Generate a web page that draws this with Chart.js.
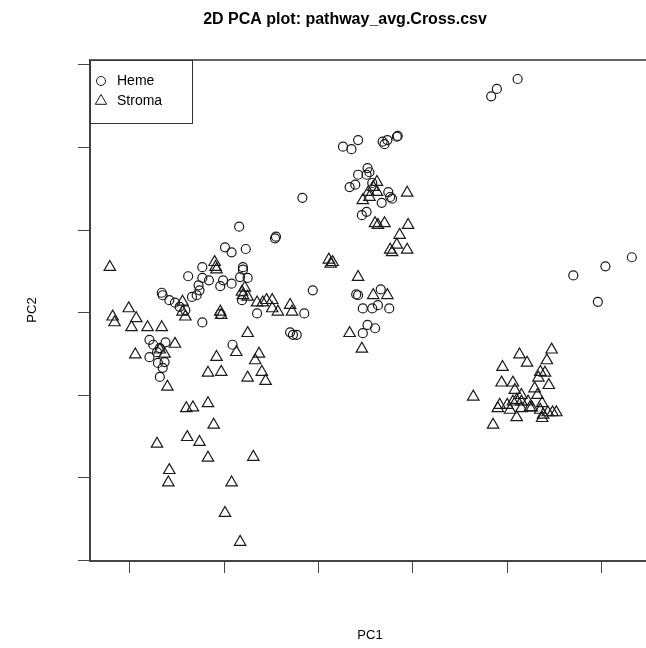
<!DOCTYPE html>
<html lang="en">
<head>
<meta charset="UTF-8">
<title>2D PCA plot</title>
<script src="https://cdn.jsdelivr.net/npm/chart.js"></script>
<style>
  html, body { margin: 0; padding: 0; background: #fff; overflow: hidden; }
</style>
</head>
<body>
<canvas id="pcaChart" width="646" height="648"></canvas>
<script>
// sample scores on the first two components, [PC1, PC2]
const hemeScores = [
  [18.3, 26.2], [18.9, 27.1], [21.1, 28.3],
  [27.0, 4.5], [30.4, 5.6], [33.2, 6.7], [29.6, 1.3],
  [2.6, 20.1], [3.5, 19.8], [4.2, 20.9], [6.8, 20.7], [7.0, 20.4], [7.3, 20.9], [8.3, 21.3], [8.4, 21.4],
  [5.2, 17.5], [5.4, 17.0], [4.2, 16.7], [5.1, 16.7], [3.3, 15.2], [3.9, 15.5], [5.7, 15.7],
  [7.4, 14.6], [7.6, 14.0], [7.8, 13.8], [6.7, 13.3], [4.6, 11.8], [5.1, 12.2],
  [-1.7, 13.9], [-4.5, 9.2], [-4.6, 9.0],
  [-0.6, 2.7], [4.0, 2.2], [4.2, 2.1], [6.6, 2.8], [4.7, 0.5], [5.7, 0.5], [6.3, 0.9], [7.5, 0.5],
  [5.2, -1.5], [6.0, -1.9], [4.7, -2.5], [-3.0, -2.4], [-2.7, -2.7], [-2.3, -2.7], [-1.5, -0.1],
  [-8.4, 10.4], [-9.9, 7.9], [-9.2, 7.3], [-7.7, 7.7], [-8.0, 5.5], [-8.0, 5.2], [-8.3, 4.3], [-7.5, 4.2],
  [-12.3, 5.5], [-13.8, 4.4], [-12.3, 4.2], [-11.6, 3.9], [-10.1, 3.9], [-10.4, 3.2], [-9.2, 3.5],
  [-12.7, 3.3], [-12.6, 2.7], [-12.9, 2.1], [-13.4, 1.9], [-16.5, 2.1], [-16.6, 2.4], [-15.8, 1.5],
  [-15.2, 1.2], [-14.7, 0.7], [-14.1, 0.3], [-12.3, -1.2], [-10.4, -0.2], [-6.5, -0.1], [-8.1, 1.5],
  [-9.1, -3.9],
  [-17.9, -3.3], [-17.5, -3.9], [-16.8, -4.3], [-16.2, -3.6], [-17.9, -5.4], [-17.1, -4.8],
  [-16.3, -6.0], [-16.5, -6.7], [-16.8, -7.8], [-17.0, -6.1]
];

const stromaScores = [
  [-22.1, 5.5], [-20.1, 0.5], [-21.8, -0.5], [-21.6, -1.2], [-19.3, -0.7], [-19.8, -1.8], [-18.1, -1.8],
  [-16.6, -1.8], [-19.4, -5.1], [-15.2, -3.8], [-16.0, -9.0], [-14.4, 1.3], [-14.4, 0.1], [-14.1, -0.5],
  [-16.8, -4.5], [-16.3, -5.0],
  [-11.0, 6.1], [-10.9, 5.5], [-10.8, 5.2], [-10.4, 0.1], [-10.3, -0.3],
  [-8.1, 2.5], [-8.0, 2.1], [-7.5, 1.9], [-7.8, 3.0], [-6.5, 1.2], [-5.9, 1.2], [-5.5, 1.5], [-4.9, 1.5],
  [-4.9, 0.5], [-4.3, 0.1], [-3.0, 0.9], [-2.8, 0.1], [-7.5, -2.5],
  [1.1, 6.4], [1.3, 5.9], [1.5, 6.1],
  [-11.7, -7.3], [-10.3, -7.2], [-10.8, -5.4], [-8.7, -4.8], [-7.5, -7.9], [-6.3, -5.0], [-6.7, -5.8],
  [-6.0, -7.2], [-5.6, -8.3],
  [-14.0, -11.6], [-13.3, -11.5], [-11.7, -11.0], [-11.1, -13.6], [-13.9, -15.1], [-12.6, -15.7],
  [-17.1, -15.9], [-11.7, -17.6], [-6.9, -17.5], [-15.8, -19.1], [-15.9, -20.6], [-9.2, -20.6],
  [-9.9, -24.3], [-8.3, -27.8],
  [4.2, 4.3], [5.8, 2.1], [7.3, 2.1], [3.3, -2.5], [4.6, -4.4],
  [6.2, 15.8], [5.8, 15.2], [5.3, 14.6], [6.2, 14.6], [4.7, 13.6], [5.4, 14.0], [9.4, 14.5],
  [6.0, 10.8], [6.3, 10.6], [7.0, 10.8], [9.5, 10.6], [8.6, 9.4], [8.3, 8.2], [7.6, 7.6], [7.8, 7.3], [9.4, 7.6],
  [24.7, -4.5], [24.2, -5.8], [21.3, -5.1], [22.1, -6.1], [19.5, -6.6], [23.5, -7.2], [24.0, -7.3],
  [23.3, -7.9], [19.4, -8.5], [24.4, -8.8], [20.6, -8.5], [20.8, -9.4], [22.9, -9.2], [23.2, -10.0],
  [16.4, -10.2], [19.2, -11.2], [20.0, -11.2], [20.6, -10.8], [21.5, -10.8], [22.2, -10.8], [22.4, -11.5],
  [23.7, -11.0], [19.0, -11.6], [20.3, -11.8], [21.5, -11.6], [23.5, -11.8], [23.8, -12.4], [24.3, -12.1],
  [24.8, -12.1], [25.2, -12.1], [21.0, -12.7], [23.7, -12.8], [18.5, -13.6], [21.5, -10.0], [22.6, -11.5],
  [21.0, -10.6]
];

const groupNames = ['Heme', 'Stroma'];
const pc1Ticks = [-20, -10, 0, 10, 20, 30];
const pc2Ticks = [-30, -20, -10, 0, 10, 20, 30];
const pc1Limits = [-24.2, 34.7];
const pc2Limits = [-30.1, 30.6];
const plotTitle = '2D PCA plot: pathway_avg.Cross.csv';
const xLabel = 'PC1';
const yLabel = 'PC2';

const ink = '#1a1a1a';
const fontFamily = '"Liberation Sans", Arial, Helvetica, sans-serif';

const toPoints = rows => rows.map(([x, y]) => ({ x: x, y: y }));

// axis line + outward tick marks only, no labels
function plainAxis(limits, tickValues, horizontal) {
  return {
    type: 'linear',
    min: limits[0],
    max: limits[1],
    afterBuildTicks: scale => { scale.ticks = tickValues.map(v => ({ value: v })); },
    afterFit: scale => {
      if (horizontal) scale.height = 12; else scale.width = 12;
    },
    ticks: { display: false },
    grid: { drawOnChartArea: false, drawTicks: true, tickLength: 12, color: '#444', lineWidth: 1 },
    border: { display: true, color: '#444', width: 2 }
  };
}

// title, axis names, top frame edge and the boxed key
const annotations = {
  id: 'annotations',
  afterDraw(chart) {
    const ctx = chart.ctx;
    const area = chart.chartArea;
    ctx.save();

    ctx.strokeStyle = '#666';
    ctx.lineWidth = 2;
    ctx.beginPath();
    ctx.moveTo(area.left, area.top);
    ctx.lineTo(area.right, area.top);
    ctx.stroke();

    ctx.fillStyle = '#000';
    ctx.textAlign = 'center';
    ctx.textBaseline = 'middle';
    ctx.font = 'bold 16px ' + fontFamily;
    ctx.fillText(plotTitle, 345, 20);

    ctx.font = '13px ' + fontFamily;
    ctx.fillText(xLabel, 370, 635);
    ctx.save();
    ctx.translate(32, 310);
    ctx.rotate(-Math.PI / 2);
    ctx.fillText(yLabel, 0, 0);
    ctx.restore();

    // key box in the top-left corner of the plot
    const boxW = 102, boxH = 63;
    ctx.strokeStyle = '#333';
    ctx.lineWidth = 1;
    ctx.strokeRect(area.left + 0.5, area.top + 0.5, boxW, boxH);

    ctx.textAlign = 'left';
    ctx.font = '14px ' + fontFamily;
    chart.data.datasets.forEach((ds, i) => {
      const y = area.top + 21 + i * 20;
      ctx.strokeStyle = ds.borderColor;
      ctx.fillStyle = 'rgba(0,0,0,0)';
      Chart.helpers.drawPoint(ctx, {
        pointStyle: ds.pointStyle,
        radius: ds.pointRadius,
        borderWidth: ds.borderWidth,
        rotation: 0
      }, area.left + 11, y);
      ctx.fillStyle = '#000';
      ctx.fillText(groupNames[i], area.left + 27, y);
    });

    ctx.restore();
  }
};

new Chart(document.getElementById('pcaChart'), {
  type: 'scatter',
  data: {
    datasets: [
      {
        label: groupNames[0],
        data: toPoints(hemeScores),
        pointStyle: 'circle',
        pointRadius: 4.5,
        borderWidth: 1.2,
        borderColor: ink,
        backgroundColor: 'rgba(0,0,0,0)'
      },
      {
        label: groupNames[1],
        data: toPoints(stromaScores),
        pointStyle: 'triangle',
        pointRadius: 6.6,
        borderWidth: 1.2,
        borderColor: ink,
        backgroundColor: 'rgba(0,0,0,0)'
      }
    ]
  },
  options: {
    responsive: false,
    animation: false,
    devicePixelRatio: 1,
    layout: { autoPadding: false, padding: { left: 78, top: 60, right: 0, bottom: 75 } },
    scales: {
      x: plainAxis(pc1Limits, pc1Ticks, true),
      y: plainAxis(pc2Limits, pc2Ticks, false)
    },
    plugins: {
      legend: { display: false },
      title: { display: false },
      tooltip: { enabled: false }
    }
  },
  plugins: [annotations]
});
</script>
</body>
</html>
